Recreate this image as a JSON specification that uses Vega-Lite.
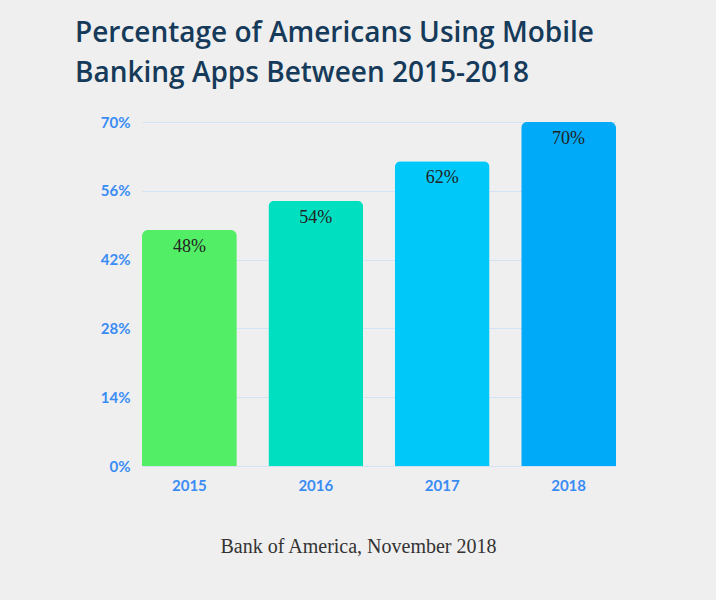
{
  "$schema": "https://vega.github.io/schema/vega-lite/v6.json",
  "autosize": {"type": "none"},
  "width": 474,
  "height": 344,
  "padding": {"left": 142, "top": 122, "right": 100, "bottom": 134},
  "background": "#efefef",
  "config": {"view": {"stroke": null}},
  "title": {
    "text": ["Percentage of Americans Using Mobile", "Banking Apps Between 2015-2018"],
    "anchor": "start",
    "frame": "group",
    "dx": -67,
    "offset": 27,
    "font": "Open Sans",
    "fontSize": 28,
    "fontWeight": 600,
    "color": "#163a59",
    "lineHeight": 40
  },
  "data": {
    "values": [
      {"year": "2015", "share": 0.48},
      {"year": "2016", "share": 0.54},
      {"year": "2017", "share": 0.62},
      {"year": "2018", "share": 0.70}
    ]
  },
  "encoding": {
    "x": {
      "field": "year", "type": "ordinal",
      "scale": {"paddingInner": 0.25, "paddingOuter": 0},
      "axis": {
        "title": "Bank of America, November 2018",
        "titleFont": "Liberation Serif", "titleFontSize": 20, "titleFontWeight": "normal",
        "titleColor": "#333333", "titlePadding": 43, "titleX": 216, "titleAlign": "center",
        "labelAngle": 0, "labelFont": "Lato", "labelFontSize": 15, "labelFontWeight": "bold",
        "labelColor": "#3a8cf5", "labelPadding": 12,
        "domain": false, "ticks": false
      }
    },
    "y": {
      "field": "share", "type": "quantitative",
      "scale": {"domain": [0, 0.7]},
      "axis": {
        "title": null, "values": [0, 0.14, 0.28, 0.42, 0.56, 0.7], "format": ".0%",
        "labelFont": "Lato", "labelFontSize": 15, "labelFontWeight": "bold",
        "labelColor": "#3a8cf5", "labelPadding": 12,
        "domain": false, "ticks": false,
        "gridColor": "#d3e3f6", "gridWidth": 1
      }
    }
  },
  "layer": [
    {
      "mark": {"type": "bar", "cornerRadiusTopLeft": 6, "cornerRadiusTopRight": 6},
      "encoding": {
        "color": {
          "field": "year", "type": "nominal", "legend": null,
          "scale": {"domain": ["2015", "2016", "2017", "2018"], "range": ["#52ee66", "#00dfc0", "#00c8f8", "#00aaf8"]}
        }
      }
    },
    {
      "mark": {"type": "text", "baseline": "alphabetic", "dy": 22, "font": "Liberation Serif", "fontSize": 18, "color": "#222222"},
      "encoding": {
        "text": {"field": "share", "type": "quantitative", "format": ".0%"}
      }
    }
  ]
}
